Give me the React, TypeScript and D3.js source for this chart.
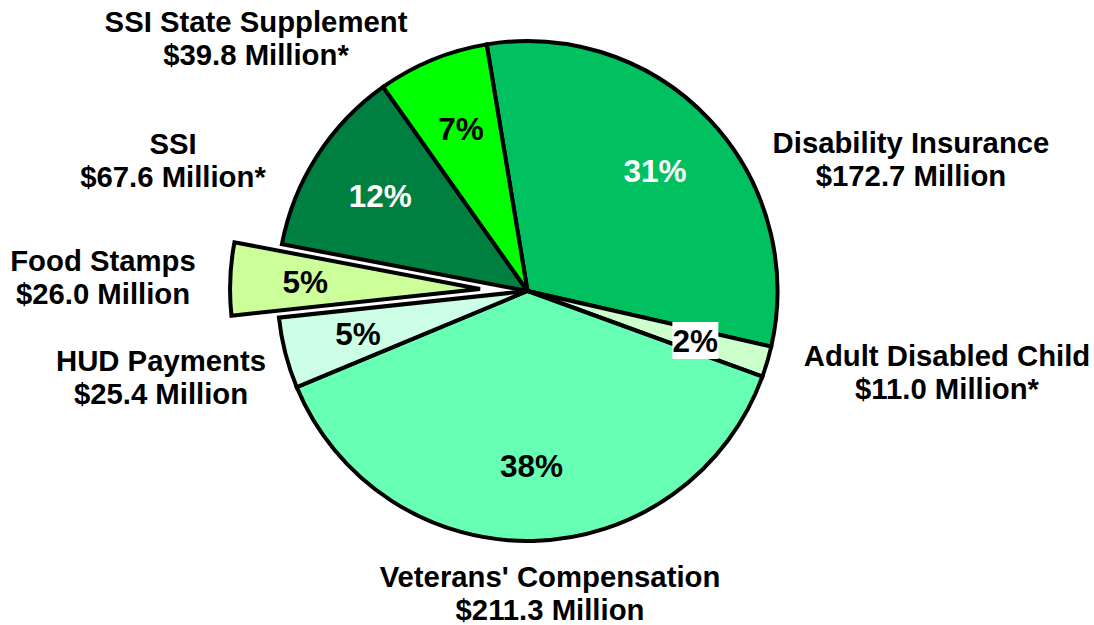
import React from "react";
import * as d3 from "d3";

const categories = [
  "Disability Insurance",
  "Adult Disabled Child",
  "Veterans' Compensation",
  "HUD Payments",
  "Food Stamps",
  "SSI",
  "SSI State Supplement",
];
const values = [172.7, 11.0, 211.3, 25.4, 26.0, 67.6, 39.8];
const amountLabels = [
  "$172.7 Million",
  "$11.0 Million*",
  "$211.3 Million",
  "$25.4 Million",
  "$26.0 Million",
  "$67.6 Million*",
  "$39.8 Million*",
];
const colors = ["#00C060", "#CCFFCC", "#66FFB3", "#CCFFE6", "#CCFF99", "#008040", "#00FF00"];
const percentColors = ["#FFFFFF", "#000000", "#000000", "#000000", "#000000", "#FFFFFF", "#000000"];
const exploded = [0, 0, 0, 0, 1, 0, 0];
const boxedPercent = [false, true, false, false, false, false, false];
// label anchor (center x, first-line baseline)
const labelPos: [number, number][] = [
  [911, 153],
  [947, 366],
  [550, 587],
  [161, 371],
  [103, 271],
  [173, 154],
  [256, 32],
];

const W = 1094;
const H = 625;
const CX = 527.5;
const CY = 291;
const R = 250;
const LABEL_R = 175;
const EXPLODE = 47.5;
const START = (-9.4 * Math.PI) / 180;

export default function App() {
  const total = d3.sum(values);
  const pie = d3
    .pie<number>()
    .sort(null)
    .value((d) => d)
    .startAngle(START)
    .endAngle(START + 2 * Math.PI);
  const arcs = pie(values);
  const arcGen = d3.arc<d3.PieArcDatum<number>>().innerRadius(0).outerRadius(R);
  const labelArc = d3.arc<d3.PieArcDatum<number>>().innerRadius(LABEL_R).outerRadius(LABEL_R);

  const font = "'Liberation Sans', Arial, Helvetica, sans-serif";

  return (
    <svg
      width={W}
      height={H}
      style={{ position: "absolute", left: 0, top: 0, background: "#fff" }}
    >
      <g transform={`translate(${CX},${CY})`}>
        {arcs.map((a, i) => {
          const mid = (a.startAngle + a.endAngle) / 2;
          const off = exploded[i] ? EXPLODE : 0;
          const dx = Math.sin(mid) * off;
          const dy = -Math.cos(mid) * off;
          return (
            <path
              key={i}
              d={arcGen(a) || ""}
              transform={`translate(${dx},${dy})`}
              fill={colors[i]}
              stroke="#000"
              strokeWidth={4}
              strokeLinejoin="miter"
            />
          );
        })}
        {arcs.map((a, i) => {
          const mid = (a.startAngle + a.endAngle) / 2;
          const off = exploded[i] ? EXPLODE : 0;
          const [lx, ly] = labelArc.centroid(a);
          const x = lx + Math.sin(mid) * off;
          const y = ly - Math.cos(mid) * off;
          const pct = Math.round((values[i] / total) * 100) + "%";
          return (
            <g key={"p" + i}>
              {boxedPercent[i] && (
                <rect x={x - 23} y={y - 18.5} width={46} height={37} fill="#fff" />
              )}
              <text
                x={x}
                y={y}
                textAnchor="middle"
                dominantBaseline="central"
                fontFamily={font}
                fontWeight="bold"
                fontSize={31.5}
                fill={percentColors[i]}
              >
                {pct}
              </text>
            </g>
          );
        })}
      </g>
      {categories.map((c, i) => (
        <text
          key={"l" + i}
          x={labelPos[i][0]}
          y={labelPos[i][1]}
          textAnchor="middle"
          fontFamily={font}
          fontWeight="bold"
          fontSize={29.3}
          fill="#000"
        >
          <tspan x={labelPos[i][0]} dy={0}>
            {c}
          </tspan>
          <tspan x={labelPos[i][0]} dy={32.5}>
            {amountLabels[i]}
          </tspan>
        </text>
      ))}
    </svg>
  );
}
